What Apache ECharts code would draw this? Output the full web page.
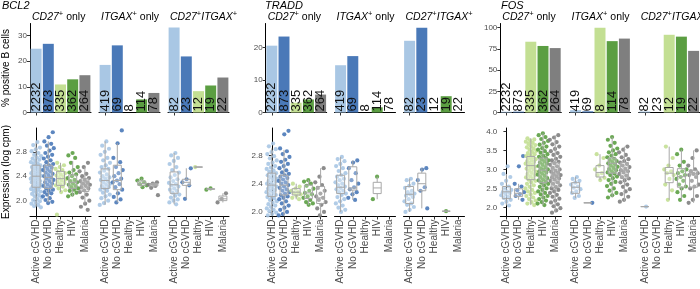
<!DOCTYPE html>
<html>
<head>
<meta charset="utf-8">
<script src="https://cdn.jsdelivr.net/npm/echarts@6/dist/echarts.min.js"></script>
<style>
html, body { margin: 0; padding: 0; background: #fff; }
#chart { width: 700px; height: 289px; }
</style>
</head>
<body>
<div id="chart"></div>
<script>
// ---- data ----
var categories = ['Active cGVHD', 'No cGVHD', 'Healthy', 'HIV', 'Malaria'];
var geneNames = ['BCL2', 'TRADD', 'FOS'];
var subsetLabels = [
    '{i|CD27}{s|+}{u| only}',
    '{i|ITGAX}{s|+}{u| only}',
    '{i|CD27}{s|+}{i|ITGAX}{s|+}'
];
// number of cells per group (printed in the bars)
var cellCounts = [
    [2232, 873, 335, 362, 264],
    [419, 69, 8, 114, 78],
    [82, 23, 12, 19, 22]
];

// % positive B cells, per subset
var bcl2Pct = [[24.8, 26.7, 10.9, 12.9, 14.5], [18.5, 26.1, 0, 5.1, 7.6], [33.0, 21.8, 8.3, 10.5, 13.6]];
var traddPct = [[20.5, 23.3, 3.0, 4.0, 5.5], [14.5, 17.3, 0, 1.6, 0], [22.0, 26.0, 0, 5.0, 0]];
var fosPct = [[0.9, 1.0, 83.5, 78.5, 76.0], [2.8, 1.4, 100, 84.2, 87.2], [1.2, 0, 91.7, 89.5, 72.7]];

// boxplot stats [min, q1, median, q3, max]; null = no cells
var bcl2Box = [
    [[1.90, 2.22, 2.40, 2.58, 2.95], [1.97, 2.20, 2.38, 2.58, 2.97], [2.14, 2.25, 2.36, 2.48, 2.62], [2.07, 2.20, 2.30, 2.42, 2.65], [1.95, 2.15, 2.27, 2.36, 2.55]],
    [[1.93, 2.20, 2.33, 2.52, 2.97], [1.97, 2.18, 2.33, 2.58, 2.94], null, [2.22, 2.25, 2.28, 2.32, 2.36], [2.21, 2.24, 2.26, 2.28, 2.30]],
    [[1.94, 2.12, 2.26, 2.47, 2.78], [2.03, 2.25, 2.30, 2.35, 2.53], [2.55, 2.55, 2.55, 2.55, 2.55], [2.18, 2.185, 2.19, 2.195, 2.20], [1.97, 2.00, 2.03, 2.075, 2.12]]
];
var traddBox = [
    [[1.95, 2.22, 2.38, 2.55, 2.90], [1.95, 2.24, 2.38, 2.52, 2.88], [2.18, 2.24, 2.28, 2.33, 2.40], [2.10, 2.19, 2.27, 2.38, 2.45], [1.95, 2.12, 2.20, 2.36, 2.62]],
    [[2.00, 2.26, 2.35, 2.52, 2.78], [2.17, 2.31, 2.34, 2.64, 2.73], null, [2.18, 2.26, 2.34, 2.42, 2.50], null],
    [[2.00, 2.12, 2.25, 2.36, 2.47], [2.05, 2.30, 2.40, 2.55, 2.62], null, [2.01, 2.01, 2.01, 2.01, 2.01], null]
];
var fosBox = [
    [[2.05, 2.23, 2.41, 2.55, 2.88], [2.20, 2.29, 2.37, 2.49, 2.62], [2.06, 2.73, 3.10, 3.34, 3.82], [2.06, 2.65, 2.98, 3.30, 3.95], [1.86, 2.53, 2.85, 3.18, 3.90]],
    [[2.25, 2.37, 2.53, 2.65, 2.80], [2.12, 2.12, 2.12, 2.12, 2.12], [2.72, 2.80, 2.92, 3.10, 3.40], [2.26, 2.90, 3.16, 3.30, 3.85], [2.15, 2.77, 2.98, 3.18, 3.60]],
    [[2.02, 2.02, 2.02, 2.02, 2.02], null, [2.20, 2.65, 2.90, 3.05, 3.60], [2.20, 2.53, 2.81, 3.02, 3.52], [2.12, 2.53, 2.88, 2.98, 3.50]]
];

// expression of positive cells (log cpm), a readable subset of the jittered dots
var bcl2Pts = [
    [
        [2.96, 2.91, 2.87, 2.84, 2.81, 2.78, 2.75, 2.73, 2.71, 2.69, 2.67, 2.65, 2.63, 2.61, 2.60, 2.58, 2.57, 2.55, 2.54, 2.53, 2.51, 2.50, 2.49, 2.47, 2.46, 2.45, 2.44, 2.42, 2.41, 2.40, 2.39, 2.38, 2.37, 2.36, 2.35, 2.33, 2.32, 2.31, 2.30, 2.28, 2.27, 2.26, 2.25, 2.23, 2.22, 2.21, 2.19, 2.18, 2.16, 2.15, 2.13, 2.11, 2.09, 2.07, 2.05, 2.03, 2.01, 1.99, 1.97, 1.95, 1.93, 1.91, 1.89],
        [3.12, 3.04, 2.97, 2.93, 2.90, 2.86, 2.82, 2.78, 2.75, 2.72, 2.69, 2.66, 2.63, 2.60, 2.58, 2.56, 2.54, 2.52, 2.50, 2.48, 2.46, 2.44, 2.42, 2.40, 2.38, 2.36, 2.34, 2.32, 2.30, 2.28, 2.26, 2.24, 2.22, 2.20, 2.18, 2.16, 2.14, 2.12, 2.10, 2.07, 2.04, 2.01, 1.98, 1.96],
        [2.62, 2.58, 2.55, 2.52, 2.50, 2.47, 2.45, 2.43, 2.41, 2.39, 2.37, 2.35, 2.33, 2.31, 2.29, 2.27, 2.25, 2.23, 2.20, 2.17, 2.14, 1.77],
        [2.78, 2.74, 2.70, 2.62, 2.55, 2.50, 2.46, 2.43, 2.40, 2.37, 2.34, 2.32, 2.30, 2.28, 2.26, 2.24, 2.22, 2.20, 2.18, 2.16, 2.13, 2.10, 2.07],
        [2.62, 2.55, 2.48, 2.44, 2.40, 2.37, 2.34, 2.32, 2.30, 2.28, 2.26, 2.24, 2.22, 2.20, 2.17, 2.14, 2.10, 2.05, 2.00, 1.95, 1.90, 1.85]
    ],
    [
        [2.97, 2.90, 2.85, 2.80, 2.75, 2.70, 2.66, 2.62, 2.58, 2.55, 2.52, 2.49, 2.46, 2.43, 2.40, 2.38, 2.36, 2.34, 2.32, 2.30, 2.28, 2.26, 2.24, 2.22, 2.20, 2.18, 2.16, 2.13, 2.10, 2.07, 2.04, 2.00, 1.96, 1.93],
        [3.15, 2.94, 2.70, 2.63, 2.55, 2.50, 2.45, 2.40, 2.36, 2.33, 2.30, 2.27, 2.22, 2.18, 2.12, 2.06, 2.02, 1.97],
        [],
        [2.36, 2.33, 2.30, 2.27, 2.25, 2.22],
        [2.30, 2.28, 2.26, 2.24, 2.21, 2.09]
    ],
    [
        [2.78, 2.74, 2.70, 2.65, 2.60, 2.55, 2.50, 2.46, 2.42, 2.38, 2.35, 2.32, 2.29, 2.27, 2.25, 2.23, 2.20, 2.18, 2.16, 2.13, 2.10, 2.08, 2.05, 2.02, 2.00, 1.97, 1.94],
        [2.53, 2.35, 2.30, 2.25, 2.03],
        [2.55],
        [2.20, 2.18],
        [2.12, 2.03, 1.97]
    ]
];
var traddPts = [
    [
        [2.97, 2.93, 2.89, 2.85, 2.82, 2.79, 2.76, 2.73, 2.70, 2.68, 2.65, 2.63, 2.61, 2.59, 2.57, 2.55, 2.54, 2.52, 2.50, 2.49, 2.47, 2.46, 2.44, 2.43, 2.41, 2.40, 2.38, 2.37, 2.36, 2.34, 2.33, 2.31, 2.30, 2.28, 2.27, 2.25, 2.24, 2.22, 2.21, 2.19, 2.17, 2.15, 2.13, 2.11, 2.09, 2.07, 2.05, 2.03, 2.01, 1.99, 1.97, 1.95],
        [3.15, 3.10, 2.90, 2.86, 2.82, 2.78, 2.74, 2.71, 2.68, 2.65, 2.62, 2.59, 2.56, 2.54, 2.52, 2.50, 2.48, 2.46, 2.44, 2.42, 2.40, 2.38, 2.36, 2.34, 2.32, 2.30, 2.28, 2.26, 2.24, 2.22, 2.20, 2.18, 2.15, 2.12, 2.09, 2.06, 2.03, 2.00, 1.97, 1.95],
        [2.40, 2.36, 2.33, 2.30, 2.28, 2.27, 2.25, 2.23, 2.20, 2.18],
        [2.45, 2.43, 2.40, 2.37, 2.33, 2.30, 2.27, 2.25, 2.22, 2.20, 2.17, 2.14, 2.12, 2.10],
        [2.62, 2.50, 2.42, 2.38, 2.34, 2.30, 2.26, 2.22, 2.20, 2.17, 2.14, 2.10, 2.05, 2.00, 1.95]
    ],
    [
        [2.78, 2.75, 2.72, 2.68, 2.65, 2.62, 2.58, 2.55, 2.52, 2.50, 2.47, 2.45, 2.42, 2.40, 2.38, 2.36, 2.34, 2.32, 2.30, 2.28, 2.26, 2.24, 2.21, 2.18, 2.15, 2.12, 2.09, 2.06, 2.03, 2.00],
        [2.73, 2.70, 2.62, 2.55, 2.45, 2.40, 2.35, 2.32, 2.28, 2.25, 2.20, 2.17],
        [],
        [2.50, 2.18],
        []
    ],
    [
        [2.47, 2.45, 2.40, 2.37, 2.34, 2.30, 2.28, 2.26, 2.25, 2.23, 2.21, 2.18, 2.15, 2.12, 2.10, 2.07, 2.03, 2.00],
        [2.62, 2.60, 2.45, 2.35, 2.30, 2.05],
        [],
        [2.01],
        []
    ]
];
var fosPts = [
    [
        [3.08, 2.88, 2.80, 2.70, 2.62, 2.55, 2.50, 2.46, 2.42, 2.40, 2.38, 2.35, 2.32, 2.28, 2.25, 2.20, 2.15, 2.10, 2.05],
        [3.35, 3.08, 2.62, 2.55, 2.45, 2.40, 2.35, 2.30, 2.20],
        [3.82, 3.79, 3.76, 3.73, 3.70, 3.67, 3.64, 3.61, 3.58, 3.55, 3.52, 3.49, 3.46, 3.43, 3.40, 3.37, 3.35, 3.32, 3.30, 3.27, 3.25, 3.22, 3.20, 3.17, 3.15, 3.12, 3.10, 3.07, 3.05, 3.02, 3.00, 2.97, 2.94, 2.91, 2.88, 2.85, 2.82, 2.79, 2.76, 2.73, 2.70, 2.66, 2.62, 2.58, 2.54, 2.50, 2.46, 2.42, 2.38, 2.34, 2.30, 2.26, 2.22, 2.18, 2.14, 2.10, 2.06],
        [3.95, 3.90, 3.85, 3.80, 3.75, 3.70, 3.65, 3.60, 3.56, 3.52, 3.48, 3.44, 3.40, 3.36, 3.33, 3.30, 3.27, 3.24, 3.21, 3.18, 3.15, 3.12, 3.09, 3.06, 3.03, 3.00, 2.98, 2.95, 2.92, 2.89, 2.86, 2.83, 2.80, 2.77, 2.74, 2.71, 2.68, 2.65, 2.62, 2.58, 2.54, 2.50, 2.46, 2.42, 2.38, 2.34, 2.30, 2.26, 2.22, 2.18, 2.14, 2.10, 2.06],
        [3.90, 3.84, 3.78, 3.72, 3.66, 3.60, 3.54, 3.48, 3.43, 3.38, 3.33, 3.28, 3.24, 3.20, 3.16, 3.12, 3.08, 3.04, 3.00, 2.97, 2.94, 2.91, 2.88, 2.85, 2.82, 2.79, 2.76, 2.73, 2.70, 2.66, 2.62, 2.58, 2.54, 2.50, 2.46, 2.42, 2.38, 2.33, 2.28, 2.23, 2.18, 2.13, 2.08, 2.03, 1.98, 1.92, 1.86]
    ],
    [
        [2.80, 2.75, 2.70, 2.65, 2.60, 2.55, 2.52, 2.48, 2.42, 2.38, 2.30, 2.25],
        [2.12],
        [3.40, 3.30, 3.10, 3.00, 2.90, 2.85, 2.78, 2.72],
        [3.85, 3.78, 3.70, 3.62, 3.55, 3.50, 3.45, 3.40, 3.36, 3.32, 3.28, 3.25, 3.22, 3.19, 3.16, 3.13, 3.10, 3.07, 3.04, 3.01, 2.98, 2.95, 2.92, 2.89, 2.85, 2.81, 2.77, 2.72, 2.67, 2.62, 2.56, 2.50, 2.44, 2.38, 2.32, 2.26],
        [3.60, 3.52, 3.45, 3.38, 3.32, 3.27, 3.22, 3.18, 3.14, 3.10, 3.06, 3.02, 2.98, 2.95, 2.92, 2.88, 2.84, 2.80, 2.76, 2.71, 2.66, 2.60, 2.54, 2.48, 2.42, 2.35, 2.28, 2.20, 2.15]
    ],
    [
        [2.02],
        [],
        [3.60, 3.30, 3.10, 3.00, 2.95, 2.90, 2.85, 2.75, 2.60, 2.45, 2.20],
        [3.52, 3.40, 3.20, 3.10, 3.00, 2.95, 2.90, 2.85, 2.80, 2.75, 2.70, 2.60, 2.55, 2.50, 2.40, 2.30, 2.20],
        [3.50, 3.30, 3.10, 3.00, 2.95, 2.90, 2.88, 2.85, 2.80, 2.70, 2.60, 2.55, 2.50, 2.30, 2.20, 2.12]
    ]
];

// axis tick labels
var bcl2BarTicks = [0, 10, 20, 30];
var traddBarTicks = [0, 10, 20];
var fosBarTicks = [0, 25, 50, 75, 100];
var bcl2ExprTicks = [2.0, 2.4, 2.8];
var traddExprTicks = [2.0, 2.4, 2.8];
var fosExprTicks = [2.0, 2.5, 3.0, 3.5, 4.0];

// ---- layout / style ----
var FONT = 'Liberation Sans';
var groupColors = ['#a9c7e4', '#4a79b8', '#c3df93', '#5b9e42', '#7f7f7f'];
var boxStroke = '#a8a8a8';
var PANEL_W = 61;
var TOP_Y = 23.5, TOP_H = 89;
var BOT_Y = 128, BOT_H = 88.5;

var genes = [
    {pct: bcl2Pct, box: bcl2Box, pts: bcl2Pts, barMax: 34.6, barTicks: bcl2BarTicks,
        exprMin: 1.74, exprMax: 3.19, exprTicks: bcl2ExprTicks, lefts: [30, 99, 168], titleX: 2},
    {pct: traddPct, box: traddBox, pts: traddPts, barMax: 27.3, barTicks: traddBarTicks,
        exprMin: 1.935, exprMax: 3.19, exprTicks: traddExprTicks, lefts: [265.7, 334.5, 403.5], titleX: 265},
    {pct: fosPct, box: fosBox, pts: fosPts, barMax: 105, barTicks: fosBarTicks,
        exprMin: 1.76, exprMax: 4.09, exprTicks: fosExprTicks, lefts: [500.3, 569.5, 638.7], titleX: 501}
];

// horizontal jitter in band units (a display offset only)
function jitter(j, g) {
    return (((j + 1) * 0.618034 + g * 0.29) % 1 - 0.5) * 0.9;
}

function renderBox(params, api) {
    var x = api.value(0);
    var pMin = api.coord([x, api.value(1)]);
    var pQ1 = api.coord([x, api.value(2)]);
    var pMed = api.coord([x, api.value(3)]);
    var pQ3 = api.coord([x, api.value(4)]);
    var pMax = api.coord([x, api.value(5)]);
    var hw = 4;
    var line = {stroke: boxStroke, lineWidth: 1, fill: null};
    return {
        type: 'group',
        children: [
            {type: 'line', shape: {x1: pMin[0], y1: pMin[1], x2: pQ1[0], y2: pQ1[1]}, style: line},
            {type: 'line', shape: {x1: pQ3[0], y1: pQ3[1], x2: pMax[0], y2: pMax[1]}, style: line},
            {type: 'rect', shape: {x: pQ3[0] - hw, y: pQ3[1], width: hw * 2, height: pQ1[1] - pQ3[1]},
                style: {stroke: boxStroke, lineWidth: 1, fill: 'rgba(255,255,255,0.25)'}},
            {type: 'line', shape: {x1: pMed[0] - hw, y1: pMed[1], x2: pMed[0] + hw, y2: pMed[1]}, style: line}
        ]
    };
}

var grids = [], xAxes = [], yAxes = [], series = [], graphics = [];
var axisLineStyle = {show: true, lineStyle: {color: '#000', width: 1}};

genes.forEach(function (gene, gi) {
    graphics.push({
        type: 'text', x: gene.titleX, y: 0.5,
        style: {text: geneNames[gi], fontFamily: FONT, fontSize: 11, fontStyle: 'italic',
            fill: '#000', verticalAlign: 'top'}
    });
    for (var s = 0; s < 3; s++) {
        var left = gene.lefts[s];
        var first = s === 0;
        var gTop = grids.length, gBot = grids.length + 1;
        grids.push({left: left, top: TOP_Y, width: PANEL_W, height: TOP_H});
        grids.push({left: left, top: BOT_Y, width: PANEL_W, height: BOT_H});

        var xTop = xAxes.length;
        xAxes.push({type: 'category', gridIndex: gTop, data: categories, offset: 2.5,
            axisLine: axisLineStyle,
            axisTick: {show: true, alignWithLabel: true, length: 3, lineStyle: {color: '#333'}},
            axisLabel: {show: false}, splitLine: {show: false}});
        var xBot = xAxes.length;
        xAxes.push({type: 'category', gridIndex: gBot, data: categories,
            axisLine: axisLineStyle,
            axisTick: {show: true, alignWithLabel: true, length: 3, lineStyle: {color: '#333'}},
            axisLabel: {show: true, interval: 0, rotate: 90, margin: 3, fontSize: 10,
                fontFamily: FONT, color: '#4d4d4d'},
            splitLine: {show: false}});
        var xJit = xAxes.length;
        xAxes.push({type: 'value', gridIndex: gBot, min: -0.5, max: 4.5, show: false,
            splitLine: {show: false}});

        var yTop = yAxes.length;
        yAxes.push({type: 'value', gridIndex: gTop, min: 0, max: gene.barMax, show: first,
            axisLine: axisLineStyle,
            axisTick: {show: true, length: 3, lineStyle: {color: '#333'}, customValues: gene.barTicks},
            axisLabel: {show: true, fontSize: 8, margin: 3, fontFamily: FONT, color: '#4d4d4d',
                customValues: gene.barTicks},
            splitLine: {show: false}});
        var yBot = yAxes.length;
        yAxes.push({type: 'value', gridIndex: gBot, min: gene.exprMin, max: gene.exprMax, show: first,
            axisLine: axisLineStyle,
            axisTick: {show: true, length: 3, lineStyle: {color: '#333'}, customValues: gene.exprTicks},
            axisLabel: {show: true, fontSize: 8, margin: 3, fontFamily: FONT, color: '#4d4d4d',
                customValues: gene.exprTicks, formatter: function (v) { return v.toFixed(1); }},
            splitLine: {show: false}});

        // bars with cell counts
        (function (counts) {
            series.push({
                type: 'bar', xAxisIndex: xTop, yAxisIndex: yTop, barWidth: '90%',
                data: gene.pct[s].map(function (v, i) {
                    return {value: v, itemStyle: {color: groupColors[i]}};
                }),
                label: {show: true, position: 'insideBottom', distance: 1, rotate: 90,
                    align: 'left', verticalAlign: 'middle', fontSize: 13, fontFamily: FONT,
                    color: '#111',
                    formatter: function (p) { return String(counts[p.dataIndex]); }}
            });
        })(cellCounts[s]);

        // jittered cells
        var dots = [];
        gene.pts[s].forEach(function (vals, g) {
            vals.forEach(function (v, j) {
                dots.push({value: [g + jitter(j, g), v], itemStyle: {color: groupColors[g]}});
            });
        });
        series.push({type: 'scatter', xAxisIndex: xJit, yAxisIndex: yBot, symbolSize: 4.2,
            itemStyle: {opacity: 0.9}, data: dots, silent: true});

        // boxes on top
        var boxes = [];
        gene.box[s].forEach(function (b, g) {
            if (b) boxes.push([g].concat(b));
        });
        series.push({type: 'custom', xAxisIndex: xBot, yAxisIndex: yBot, renderItem: renderBox,
            encode: {x: 0, y: [1, 2, 3, 4, 5]}, data: boxes, z: 5, silent: true});

        graphics.push({
            type: 'text', x: left + 2, y: 22.5,
            style: {text: subsetLabels[s], fontFamily: FONT, fill: '#000', verticalAlign: 'bottom',
                rich: {
                    i: {fontFamily: FONT, fontSize: 10.5, fontStyle: 'italic', fill: '#000',
                        lineHeight: 13, verticalAlign: 'bottom'},
                    u: {fontFamily: FONT, fontSize: 10.5, fill: '#000',
                        lineHeight: 13, verticalAlign: 'bottom'},
                    s: {fontFamily: FONT, fontSize: 7.5, fill: '#000', lineHeight: 8, verticalAlign: 'top'}
                }}
        });
    }
});

// y axis titles
graphics.push({type: 'text', x: 6, y: 68, rotation: Math.PI / 2,
    style: {text: '% positive B cells', fontFamily: FONT, fontSize: 10, fill: '#000',
        align: 'center', verticalAlign: 'middle'}});
graphics.push({type: 'text', x: 6, y: 172, rotation: Math.PI / 2,
    style: {text: 'Expression (log cpm)', fontFamily: FONT, fontSize: 10, fill: '#000',
        align: 'center', verticalAlign: 'middle'}});

var chart = echarts.init(document.getElementById('chart'), null, {renderer: 'canvas'});
chart.setOption({
    animation: false,
    backgroundColor: '#fff',
    grid: grids,
    xAxis: xAxes,
    yAxis: yAxes,
    series: series,
    graphic: graphics
});
</script>
</body>
</html>
